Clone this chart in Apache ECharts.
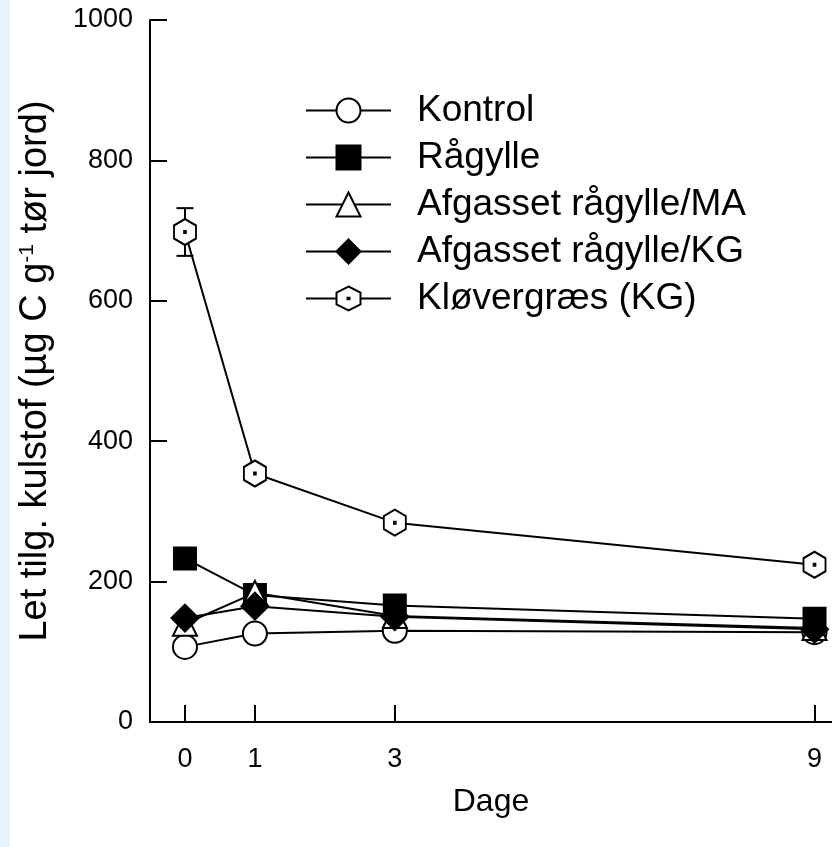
<!DOCTYPE html>
<html>
<head>
<meta charset="utf-8">
<script src="https://cdn.jsdelivr.net/npm/echarts@6/dist/echarts.min.js"></script>
<style>
html, body { margin: 0; padding: 0; background: #fff; }
#chart { width: 832px; height: 847px; }
</style>
</head>
<body>
<div id="chart"></div>
<script>
// data
var days = [0, 1, 3, 9];
var xTickLabels = [0, 1, 3, 9];
var kontrol = [107, 126, 130, 128];
var raagylle = [233, 181, 166, 147];
var afgasMA = [140, 184, 151, 134];
var afgasKG = [148, 165, 150, 132];
var kloever = [698, 354, 284, 224];
var kloeverErr = [34, 0, 0, 0];

var FONT = 'Liberation Sans, Arial, sans-serif';
var hexagon = 'path://M10,0 L18.66,5 L18.66,15 L10,20 L1.34,15 L1.34,5 Z M9.3,9.3 L10.7,9.3 L10.7,10.7 L9.3,10.7 Z';

function pairs(vals) {
    var out = [];
    for (var i = 0; i < days.length; i++) out.push([days[i], vals[i]]);
    return out;
}

function lineSeries(name, vals, symbol, size, fill) {
    return {
        name: name,
        type: 'line',
        data: pairs(vals),
        symbol: symbol,
        symbolSize: size,
        showAllSymbol: true,
        z: 3,
        lineStyle: { color: '#000', width: 2 },
        itemStyle: { color: fill, borderColor: '#000', borderWidth: 2, opacity: 1 },
        emphasis: { disabled: true },
        animation: false
    };
}

var chart = echarts.init(document.getElementById('chart'));

// error bar only visible for Kløvergræs day 0
var errData = [];
for (var i = 0; i < days.length; i++) {
    if (kloeverErr[i] > 0) errData.push([days[i], kloever[i], kloeverErr[i]]);
}

var options = {
    backgroundColor: '#fff',
    animation: false,
    textStyle: { fontFamily: FONT, color: '#000' },
    graphic: [{
        type: 'rect',
        left: 0, top: 0,
        shape: { width: 10, height: 847 },
        style: { fill: '#e6f3fd' },
        silent: true
    }],
    grid: { left: 150, right: 0, top: 20, bottom: 125, outerBoundsMode: 'none' },
    legend: {
        orient: 'vertical',
        left: 300,
        top: 87,
        itemWidth: 85,
        itemHeight: 30,
        itemGap: 10,
        textStyle: { fontFamily: FONT, fontSize: 37, color: '#000', padding: [0, 0, 0, 21] },
        data: ['Kontrol', 'Rågylle', 'Afgasset rågylle/MA', 'Afgasset rågylle/KG', 'Kløvergræs (KG)']
    },
    xAxis: {
        type: 'value',
        min: -0.5,
        max: 9.25,
        name: 'Dage',
        nameLocation: 'middle',
        nameGap: 64,
        nameTextStyle: { fontFamily: FONT, fontSize: 32, color: '#000' },
        axisLine: { show: true, onZero: false, lineStyle: { color: '#000', width: 2 } },
        axisTick: { show: true, inside: true, length: 17, customValues: xTickLabels, lineStyle: { color: '#000', width: 2 } },
        axisLabel: { customValues: xTickLabels, fontFamily: FONT, fontSize: 27, color: '#000', margin: 24 },
        splitLine: { show: false }
    },
    yAxis: {
        type: 'value',
        min: 0,
        max: 1000,
        interval: 200,
        name: 'Let tilg. kulstof (µg C g{sup|-1} tør jord)',
        nameLocation: 'middle',
        nameGap: 95,
        nameTextStyle: {
            fontFamily: FONT, fontSize: 38, color: '#000',
            rich: { sup: { fontFamily: FONT, fontSize: 21, color: '#000', verticalAlign: 'top' } }
        },
        axisLine: { show: true, onZero: false, lineStyle: { color: '#000', width: 2 } },
        axisTick: { show: true, inside: true, length: 17, lineStyle: { color: '#000', width: 2 } },
        axisLabel: {
            fontFamily: FONT, fontSize: 27, color: '#000', margin: 17,
            formatter: function (v) { return String(v); }
        },
        splitLine: { show: false }
    },
    series: [
        {
            type: 'custom',
            z: 1,
            silent: true,
            data: errData,
            renderItem: function (params, api) {
                var top = api.coord([api.value(0), api.value(1) + api.value(2)]);
                var bot = api.coord([api.value(0), api.value(1) - api.value(2)]);
                var w = 8.5;
                var st = { stroke: '#000', lineWidth: 2 };
                return {
                    type: 'group',
                    children: [
                        { type: 'line', shape: { x1: top[0], y1: top[1], x2: bot[0], y2: bot[1] }, style: st },
                        { type: 'line', shape: { x1: top[0] - w, y1: top[1], x2: top[0] + w, y2: top[1] }, style: st },
                        { type: 'line', shape: { x1: bot[0] - w, y1: bot[1], x2: bot[0] + w, y2: bot[1] }, style: st }
                    ]
                };
            }
        },
        lineSeries('Kontrol', kontrol, 'circle', 24, '#fff'),
        lineSeries('Rågylle', raagylle, 'rect', 22, '#000'),
        lineSeries('Afgasset rågylle/MA', afgasMA, 'triangle', 24, '#fff'),
        lineSeries('Afgasset rågylle/KG', afgasKG, 'diamond', 27, '#000'),
        lineSeries('Kløvergræs (KG)', kloever, hexagon, [22, 26], '#fff')
    ]
};

chart.setOption(options);
</script>
</body>
</html>
